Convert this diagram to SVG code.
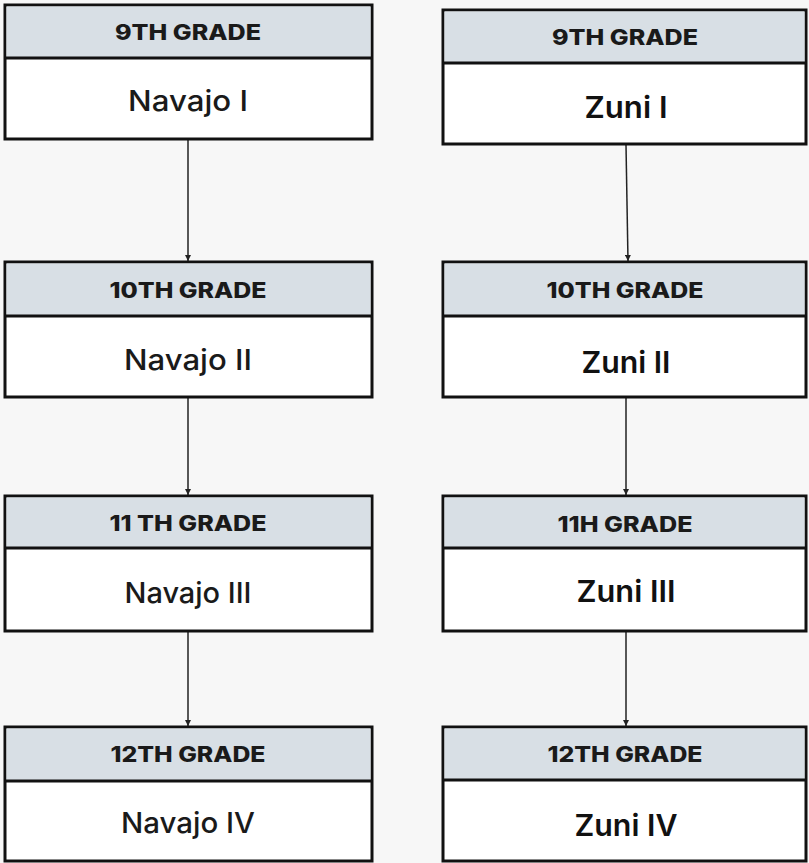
<svg xmlns="http://www.w3.org/2000/svg" width="809" height="863" viewBox="0 0 809 863">
<style>
.box{fill:#ffffff;stroke:#111111;stroke-width:3}
.hdr{fill:#d8dfe5}
.div{stroke:#111111;stroke-width:3}
.ht{font-family:Inter,"Open Sans",sans-serif;font-weight:800;font-size:21px;fill:#1a1a1a;text-anchor:middle}
.nv{font-family:Inter,"Open Sans",sans-serif;font-weight:500;font-size:29px;fill:#1a1a1a;text-anchor:middle}
.zn{font-family:Inter,"Open Sans",sans-serif;font-weight:600;font-size:30px;fill:#111111;text-anchor:middle}
.conn{stroke:#222222;stroke-width:1.5;fill:none;marker-end:url(#ah)}
</style>
<defs>
<marker id="ah" viewBox="0 0 10 10" refX="10" refY="5" markerWidth="6" markerHeight="6" markerUnits="userSpaceOnUse" orient="auto">
<path d="M0,0 L10,5 L0,10 z" fill="#222222"/>
</marker>
</defs>
<rect x="0" y="0" width="809" height="863" fill="#f7f7f7"/>
<g id="connectors">
<line class="conn" x1="188" y1="140" x2="188" y2="261"/>
<line class="conn" x1="188" y1="398" x2="188" y2="495"/>
<line class="conn" x1="188" y1="632" x2="188" y2="726"/>
<line class="conn" x1="626" y1="145" x2="628" y2="261"/>
<line class="conn" x1="626" y1="398" x2="626" y2="495"/>
<line class="conn" x1="626" y1="632" x2="626" y2="726"/>
</g>
<g id="navajo1">
<rect class="box" x="5" y="5" width="367" height="134"/>
<rect class="hdr" x="6.5" y="6.5" width="364" height="51.5"/>
<line class="div" x1="5" y1="58" x2="372" y2="58"/>
<text class="ht" x="188" y="40" textLength="146" lengthAdjust="spacingAndGlyphs">9TH GRADE</text>
<text class="nv" x="188" y="111" textLength="120" lengthAdjust="spacingAndGlyphs">Navajo I</text>
</g>
<g id="navajo2">
<rect class="box" x="5" y="262" width="367" height="135"/>
<rect class="hdr" x="6.5" y="263.5" width="364" height="52.5"/>
<line class="div" x1="5" y1="316" x2="372" y2="316"/>
<text class="ht" x="188" y="298" textLength="157" lengthAdjust="spacingAndGlyphs">10TH GRADE</text>
<text class="nv" x="188" y="370" textLength="128" lengthAdjust="spacingAndGlyphs">Navajo II</text>
</g>
<g id="navajo3">
<rect class="box" x="5" y="496" width="367" height="135"/>
<rect class="hdr" x="6.5" y="497.5" width="364" height="50.5"/>
<line class="div" x1="5" y1="548" x2="372" y2="548"/>
<text class="ht" x="188" y="531" textLength="157" lengthAdjust="spacingAndGlyphs">11 TH GRADE</text>
<text class="nv" x="188" y="603" textLength="127" lengthAdjust="spacingAndGlyphs">Navajo III</text>
</g>
<g id="navajo4">
<rect class="box" x="5" y="727" width="367" height="134"/>
<rect class="hdr" x="6.5" y="728.5" width="364" height="52.5"/>
<line class="div" x1="5" y1="781" x2="372" y2="781"/>
<text class="ht" x="188" y="762" textLength="155" lengthAdjust="spacingAndGlyphs">12TH GRADE</text>
<text class="nv" x="188" y="833" textLength="134" lengthAdjust="spacingAndGlyphs">Navajo IV</text>
</g>
<g id="zuni1">
<rect class="box" x="443" y="10" width="363" height="134"/>
<rect class="hdr" x="444.5" y="11.5" width="360" height="51.5"/>
<line class="div" x1="443" y1="63" x2="806" y2="63"/>
<text class="ht" x="625" y="45" textLength="146" lengthAdjust="spacingAndGlyphs">9TH GRADE</text>
<text class="zn" x="626" y="118" textLength="83" lengthAdjust="spacingAndGlyphs">Zuni I</text>
</g>
<g id="zuni2">
<rect class="box" x="443" y="262" width="363" height="135"/>
<rect class="hdr" x="444.5" y="263.5" width="360" height="52.5"/>
<line class="div" x1="443" y1="316" x2="806" y2="316"/>
<text class="ht" x="625" y="298" textLength="157" lengthAdjust="spacingAndGlyphs">10TH GRADE</text>
<text class="zn" x="626" y="373" textLength="89" lengthAdjust="spacingAndGlyphs">Zuni II</text>
</g>
<g id="zuni3">
<rect class="box" x="443" y="496" width="363" height="135"/>
<rect class="hdr" x="444.5" y="497.5" width="360" height="50.5"/>
<line class="div" x1="443" y1="548" x2="806" y2="548"/>
<text class="ht" x="625" y="532" textLength="135" lengthAdjust="spacingAndGlyphs">11H GRADE</text>
<text class="zn" x="626" y="602" textLength="99" lengthAdjust="spacingAndGlyphs">Zuni III</text>
</g>
<g id="zuni4">
<rect class="box" x="443" y="727" width="363" height="134"/>
<rect class="hdr" x="444.5" y="728.5" width="360" height="51.5"/>
<line class="div" x1="443" y1="780" x2="806" y2="780"/>
<text class="ht" x="625" y="762" textLength="155" lengthAdjust="spacingAndGlyphs">12TH GRADE</text>
<text class="zn" x="626" y="836" textLength="103" lengthAdjust="spacingAndGlyphs">Zuni IV</text>
</g>
</svg>
